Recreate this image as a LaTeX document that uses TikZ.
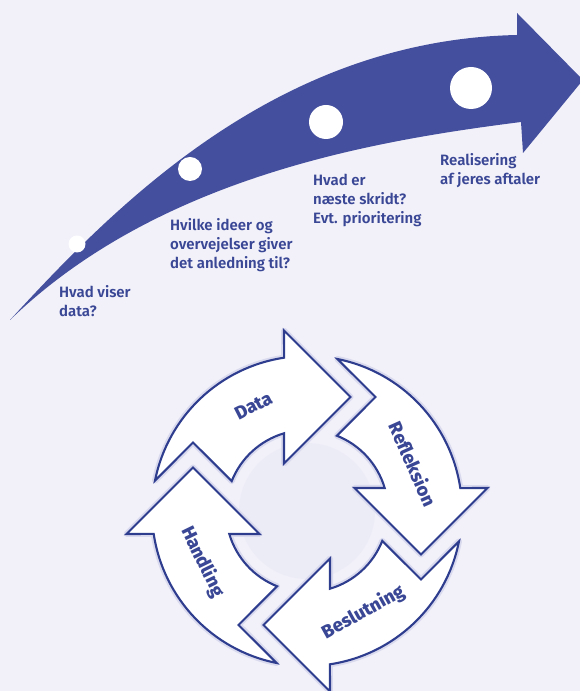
\documentclass[tikz,border=0pt]{standalone}
\usepackage{fontspec}
\setmainfont{Fira Sans}[BoldFont={Fira Sans SemiBold}]
\newfontfamily\heavyfont{Fira Sans ExtraBold}
\usepackage{tikz}
\usetikzlibrary{positioning}
\definecolor{bg}{HTML}{F2F1FA}
\definecolor{bigblue}{HTML}{44509D}
\definecolor{edge}{HTML}{2F3D8F}
\definecolor{glow}{HTML}{DADAEE}
\definecolor{txt}{HTML}{3A4795}
\definecolor{hub}{HTML}{ECECF7}

\begin{document}
\begin{tikzpicture}[x=1pt, y=1pt,
  question/.style={anchor=base west, align=left, inner sep=0pt, text=txt,
    font=\fontsize{15}{19}\selectfont\bfseries},
  steplabel/.style={text=txt, inner sep=0pt, font=\fontsize{18.5}{20}\selectfont\heavyfont},
  dot/.style={circle, fill=white, inner sep=0pt}]
\useasboundingbox[fill=bg] (0,0) rectangle (580,691);

% big arrow
\fill[bigblue] (10,371) .. controls (120,491) and (280,651) .. (517,656)
  -- (517,678) -- (583,611) -- (523,538) -- (521,569)
  .. controls (380,551) and (160,516) .. (10,371) -- cycle;
\node[dot, minimum size=17pt] (dot1) at (77,447) {};
\node[dot, minimum size=24pt] (dot2) at (190,522) {};
\node[dot, minimum size=34pt] (dot3) at (326,569) {};
\node[dot, minimum size=42pt] (dot4) at (471,603) {};

\node[question] (hvad-viser) at (59,374) {Hvad viser\\data?};
\node[question] (hvilke-ideer) at (170,422) {Hvilke ideer og\\overvejelser giver\\det anledning til?};
\node[question] (naeste-skridt) at (313,467) {Hvad er\\næste skridt?\\Evt. prioritering};
\node[question] (realisering) at (440,506) {Realisering\\af jeres aftaler};

% cycle
\fill[hub] (307,180) circle (68);
\foreach \r in {0,-90,-180,-270} {
  \begin{scope}[shift={(307,180)}, rotate=\r]
    \draw[glow, line width=6pt, line join=round]
      (168.65:155) arc[start angle=168.65, end angle=98.5, radius=155]
      -- (-23,180.5) -- (43.5,114) -- (-23,47.5) -- (-23,77.7)
      arc[start angle=106.5, end angle=158.4, radius=81] -- (-114,68.5) -- cycle;
    \draw[edge, fill=white, line width=2.1pt, line join=miter]
      (168.65:155) arc[start angle=168.65, end angle=98.5, radius=155]
      -- (-23,180.5) -- (43.5,114) -- (-23,47.5) -- (-23,77.7)
      arc[start angle=106.5, end angle=158.4, radius=81] -- (-114,68.5) -- cycle;
  \end{scope}
}
\begin{scope}[shift={(307,180)}]
  \node[steplabel, rotate=27] (data) at (117:118) {Data};
  \node[steplabel, rotate=-66] (refleksion) at (24:116) {Refleksion};
  \node[steplabel, rotate=29] (beslutning) at (-61:116) {Beslutning};
  \node[steplabel, rotate=-64] (handling) at (206:116) {Handling};
\end{scope}
\end{tikzpicture}
\end{document}
